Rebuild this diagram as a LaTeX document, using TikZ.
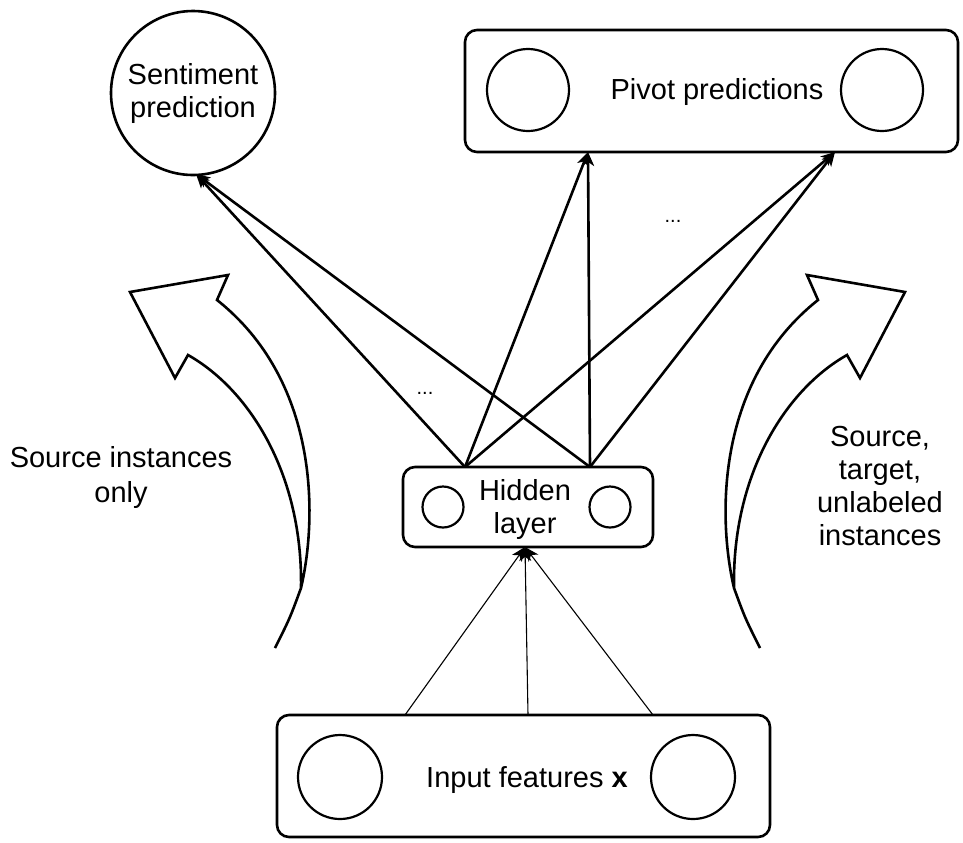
\documentclass[tikz,border=0pt]{standalone}
\usepackage{fontspec}
\setmainfont{Liberation Sans}
\usetikzlibrary{arrows.meta,calc}
\begin{document}
\begin{tikzpicture}[x=0.5pt,y=-0.5pt,
  thickln/.style={line width=1.3pt},
  thinln/.style={line width=0.55pt},
  roundbox/.style={draw, line width=1.3pt, rounded corners=6pt, inner sep=0pt},
  unit/.style={draw, circle, line width=1.1pt, inner sep=0pt},
  lbl/.style={font=\fontsize{14.5}{16.5}\selectfont, align=center, inner sep=0pt},
  tip/.style={-{Stealth[length=7pt,width=6pt,inset=2pt]}},
  dotlbl/.style={font=\fontsize{10}{12}\selectfont, inner sep=0pt},
  bigarrow/.style={draw, line width=1.3pt, line join=miter}
]
\useasboundingbox (0,0) rectangle (963,842);

% Sentiment prediction
\node[draw, circle, line width=1.3pt, minimum size=82pt, lbl] (sent) at (193,93) {Sentiment\\prediction};

% Pivot predictions
\node[roundbox, minimum width=246.5pt, minimum height=61pt] (pivot) at (711.5,91) {};
\node[unit, minimum size=41pt] (p1) at (528,90) {};
\node[unit, minimum size=41pt] (p2) at (882,90) {};
\node[lbl] (pivtext) at (717,92) {Pivot predictions};

% Hidden layer
\node[roundbox, minimum width=125pt, minimum height=40pt] (hid) at (528,507) {};
\node[unit, minimum size=20.5pt] (h1c) at (443,507) {};
\node[unit, minimum size=20.5pt] (h2c) at (610,507) {};
\node[lbl] (hidtext) at (525,509) {Hidden\\layer};

% Input features
\node[roundbox, minimum width=246.5pt, minimum height=61pt] (inp) at (523.5,776) {};
\node[unit, minimum size=42pt] (i1c) at (340,777) {};
\node[unit, minimum size=42pt] (i2c) at (693,777) {};
\node[lbl] (inptext) at (527,780) {Input features \textbf{x}};

% connector end points
\coordinate (h1) at (465,467);
\coordinate (h2) at (590,467);
\coordinate (hb) at (525,547);
\coordinate (i1) at (405,715);
\coordinate (i2) at (528,715);
\coordinate (i3) at (653,715);
\coordinate (st) at (196,174);
\coordinate (pv1) at (588,152);
\coordinate (pv2) at (835,152);

% input -> hidden
\draw[thinln,tip] (i1) -- (hb);
\draw[thinln,tip] (i2) -- (hb);
\draw[thinln,tip] (i3) -- (hb);

% hidden -> outputs
\draw[thickln,tip] (h1) -- (st);
\draw[thickln,tip] (h2) -- (st);
\draw[thickln,tip] (h1) -- (pv1);
\draw[thickln,tip] (h2) -- (pv1);
\draw[thickln,tip] (h1) -- (pv2);
\draw[thickln,tip] (h2) -- (pv2);

% dots
\node[dotlbl] (d1) at (425,393) {...};
\node[dotlbl] (d2) at (673,221) {...};

% side labels
\node[lbl, font=\fontsize{14.5}{17.5}\selectfont] (srcl) at (121,477) {Source instances\\only};
\node[lbl] (srcr) at (880,486) {Source,\\target,\\unlabeled\\instances};

% curved block arrows
\draw[bigarrow] (275,648) .. controls (290,618) .. (301,588)
  .. controls (318,515) and (318,380) .. (217,300)
  -- (228,275) -- (130,292) -- (175,378) -- (188,355)
  .. controls (250,390) and (303,475) .. (301,588);
\begin{scope}[shift={(1035,0)}, xscale=-1]
\draw[bigarrow] (275,648) .. controls (290,618) .. (301,588)
  .. controls (318,515) and (318,380) .. (217,300)
  -- (228,275) -- (130,292) -- (175,378) -- (188,355)
  .. controls (250,390) and (303,475) .. (301,588);
\end{scope}
\end{tikzpicture}
\end{document}
